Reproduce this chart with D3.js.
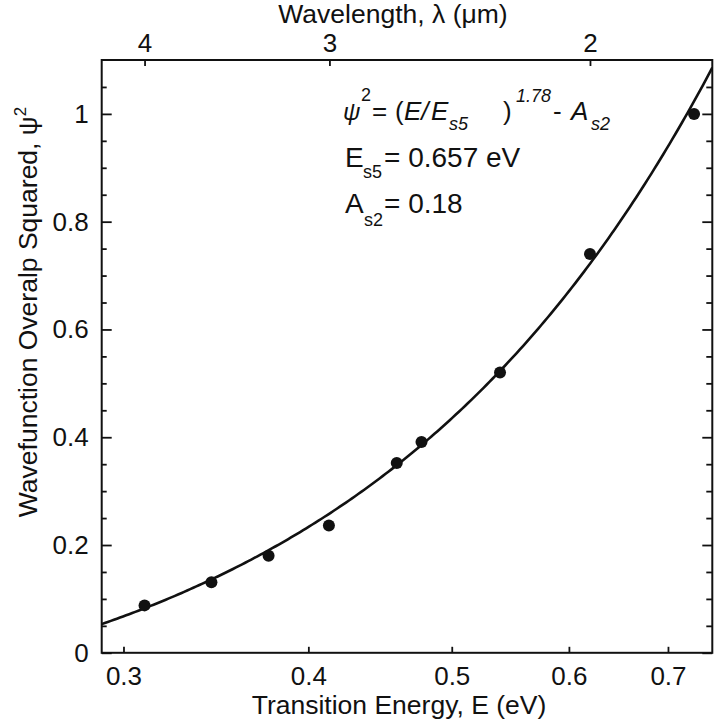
<!DOCTYPE html>
<html>
<head>
<meta charset="utf-8">
<script src="https://cdn.jsdelivr.net/npm/d3@7"></script>
<style>
  html, body { margin: 0; padding: 0; background: #fff; }
  svg text { font-family: "Liberation Sans", Arial, "DejaVu Sans", sans-serif; fill: #111; }
</style>
</head>
<body>
<svg id="chart" width="714" height="721"></svg>
<script>
// Measured transition energies (eV) and wavefunction overlap squared
const energy  = [0.310, 0.344, 0.376, 0.413, 0.459, 0.477, 0.539, 0.620, 0.729];
const overlap = [0.088, 0.131, 0.180, 0.236, 0.352, 0.391, 0.520, 0.740, 1.000];

// Axis ticks
const energyTicks = [0.3, 0.4, 0.5, 0.6, 0.7];
const wavelengthTicks = [4, 3, 2];
const overlapTicks = [0, 0.2, 0.4, 0.6, 0.8, 1];
const overlapMinorTicks = [0.05, 0.1, 0.15, 0.25, 0.3, 0.35, 0.45, 0.5, 0.55, 0.65, 0.7, 0.75, 0.85, 0.9, 0.95, 1.05];

// Fit parameters: psi^2 = (E/Es5)^n - As2
const fitEs5 = 0.657;
const fitExponent = 1.78;
const fitAs2 = 0.18;

// hc in eV*um, converts energy to wavelength
const hc = 1.24;

const svg = d3.select("#chart");
const plotLeft = 101.7, plotRight = 712.3, plotTop = 60, plotBottom = 652.8;

const x = d3.scaleLog().domain([0.29, 0.75]).range([plotLeft, plotRight]);
const xWave = d3.scaleLog().domain([hc / 0.29, hc / 0.75]).range([plotLeft, plotRight]);
const y = d3.scaleLinear().domain([0, 1.1]).range([plotBottom, plotTop]);

const tickFont = 26;
const titleFont = 26.5;

function styleAxis(g) {
  g.select(".domain").remove();
  g.selectAll(".tick line").attr("stroke", "#111").attr("stroke-width", 1.8);
  g.selectAll(".tick text").attr("font-size", tickFont).attr("fill", "#111")
    .attr("font-family", "'Liberation Sans', Arial, sans-serif");
}

// bottom energy axis (ticks point inward)
svg.append("g").attr("transform", `translate(0,${plotBottom})`)
  .call(d3.axisBottom(x).tickValues(energyTicks).tickFormat(d3.format(".1f"))
    .tickSizeInner(-6).tickSizeOuter(0).tickPadding(14))
  .call(styleAxis);

// top wavelength axis
svg.append("g").attr("transform", `translate(0,${plotTop})`)
  .call(d3.axisTop(xWave).tickValues(wavelengthTicks).tickFormat(d3.format("d"))
    .tickSizeInner(-6).tickSizeOuter(0).tickPadding(8))
  .call(styleAxis);

// left axis: major ticks with labels, minor ticks
svg.append("g").attr("transform", `translate(${plotLeft},0)`)
  .call(d3.axisLeft(y).tickValues(overlapTicks).tickFormat(d => String(d))
    .tickSizeInner(-10).tickSizeOuter(0).tickPadding(13))
  .call(styleAxis);
svg.append("g").attr("transform", `translate(${plotLeft},0)`)
  .call(d3.axisLeft(y).tickValues(overlapMinorTicks).tickFormat("")
    .tickSizeInner(-5).tickSizeOuter(0))
  .call(styleAxis);

// right axis mirrored ticks
svg.append("g").attr("transform", `translate(${plotRight},0)`)
  .call(d3.axisRight(y).tickValues(overlapTicks).tickFormat("")
    .tickSizeInner(-10).tickSizeOuter(0))
  .call(styleAxis);
svg.append("g").attr("transform", `translate(${plotRight},0)`)
  .call(d3.axisRight(y).tickValues(overlapMinorTicks).tickFormat("")
    .tickSizeInner(-6).tickSizeOuter(0))
  .call(styleAxis);

// frame
svg.append("rect")
  .attr("x", plotLeft).attr("y", plotTop)
  .attr("width", plotRight - plotLeft).attr("height", plotBottom - plotTop)
  .attr("fill", "none").attr("stroke", "#111").attr("stroke-width", 2);

// fit curve, clipped to the plot area
svg.append("clipPath").attr("id", "plotClip")
  .append("rect").attr("x", plotLeft).attr("y", plotTop)
  .attr("width", plotRight - plotLeft).attr("height", plotBottom - plotTop);

const fitE = d3.range(0, 201).map(i => 0.29 * Math.pow(0.75 / 0.29, i / 200));
const fitLine = d3.line()
  .x(e => x(e))
  .y(e => y(Math.pow(e / fitEs5, fitExponent) - fitAs2));
svg.append("path")
  .attr("clip-path", "url(#plotClip)")
  .attr("d", fitLine(fitE))
  .attr("fill", "none").attr("stroke", "#111").attr("stroke-width", 2.6);

// data points
svg.append("g").selectAll("circle")
  .data(energy.map((e, i) => [e, overlap[i]]))
  .join("circle")
  .attr("cx", d => x(d[0])).attr("cy", d => y(d[1]))
  .attr("r", 6).attr("fill", "#111");

// axis titles
svg.append("text")
  .attr("x", 399).attr("y", 714).attr("text-anchor", "middle")
  .attr("font-size", titleFont)
  .text("Transition Energy, E (eV)");

svg.append("text")
  .attr("x", 393).attr("y", 23).attr("text-anchor", "middle")
  .attr("font-size", titleFont)
  .text("Wavelength, λ (μm)");

const yTitle = svg.append("text")
  .attr("transform", "translate(37,312) rotate(-90)")
  .attr("text-anchor", "middle")
  .attr("font-size", titleFont);
yTitle.append("tspan").text("Wavefunction Overalp Squared, ψ");
yTitle.append("tspan").attr("dy", -11).attr("font-size", 17).text("2");

// fit equation annotation
const mainSize = 28, eqSize = 26, subSize = 18;
function piece(px, py, txt, size, italic) {
  svg.append("text").attr("x", px).attr("y", py)
    .attr("font-size", size)
    .attr("font-style", italic ? "italic" : "normal")
    .text(txt);
}
piece(343, 120, "ψ", 24, true);
piece(361, 101, "2", subSize, false);
piece(372, 120, "=", eqSize, false);
piece(395, 120, "(", eqSize, false);
piece(404, 120, "E/", eqSize, true);
piece(431, 120, "E", eqSize, true);
piece(449, 130, "s5", subSize, true);
piece(503, 120, ")", eqSize, false);
piece(516, 102, "1.78", subSize, true);
piece(553, 120, "-", eqSize, false);
piece(571, 120, "A", eqSize, true);
piece(591, 130, "s2", subSize, true);

piece(345, 167, "E", mainSize, false);
piece(363, 178, "s5", subSize, false);
piece(384, 167, "= 0.657 eV", mainSize, false);

piece(345, 213, "A", mainSize, false);
piece(364, 226, "s2", subSize, false);
piece(384, 213, "= 0.18", mainSize, false);
</script>
</body>
</html>
